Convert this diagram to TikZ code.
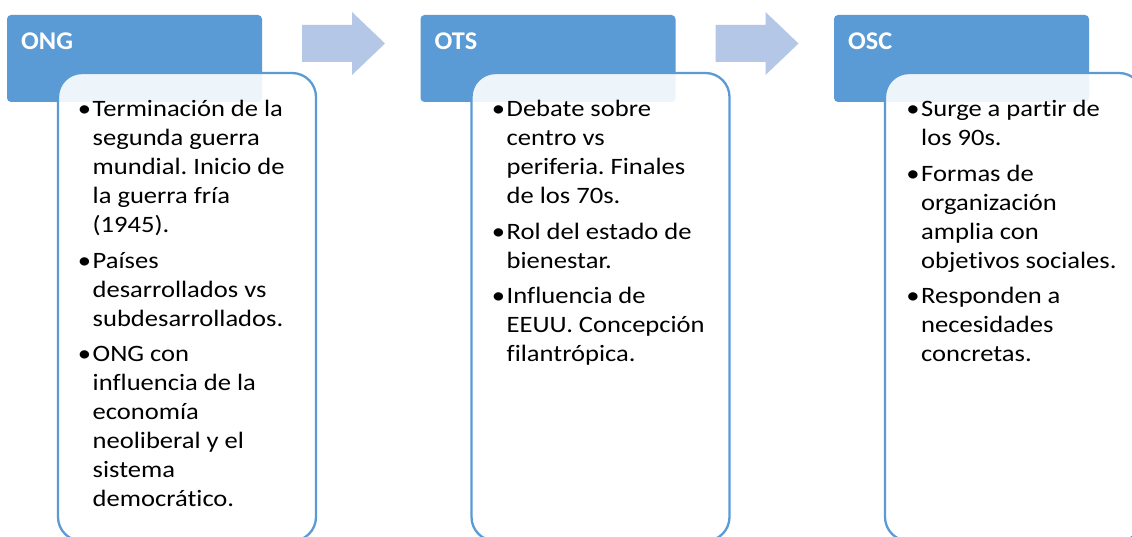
\documentclass[tikz,border=0pt]{standalone}
\usepackage{fontspec}
\setmainfont{Carlito}[FakeStretch=1.13, Ligatures={NoCommon}]
\newfontfamily\hdrfont{Carlito}[FakeStretch=1.03, Ligatures={NoCommon}]
\definecolor{hdrblue}{HTML}{5B9BD5}
\definecolor{arrowblue}{HTML}{B4C7E7}
\newcommand{\bodytext}[1]{\vtop{\hsize=300pt\parindent=0pt\parskip=0pt\frenchspacing\fontsize{23.5}{28.9}\selectfont #1}}
\newcommand{\bitem}[1]{\noindent\llap{•\kern1.5pt}#1\par}
\newcommand{\bgap}{\vskip6.8pt\relax}
\tikzset{
  hdrbox/.style={rectangle, fill=hdrblue, rounded corners=4pt, minimum width=255pt, minimum height=87pt, inner sep=0pt},
  bodybox/.style={rectangle, draw=hdrblue, line width=2.3pt, fill=white, fill opacity=0.9, rounded corners=24pt, minimum width=258pt, minimum height=468pt, inner sep=0pt},
  hdrtext/.style={anchor=base west, inner sep=0pt, text=white, font=\hdrfont\bfseries\fontsize{25.5}{30}\selectfont},
  bodytxt/.style={anchor=base west, inner sep=0pt, text=black},
  arrowshape/.style={fill=arrowblue}
}
\begin{document}
\begin{tikzpicture}[x=1pt,y=-1pt]
\useasboundingbox (0,0) rectangle (1132,537);
\clip (0,0) rectangle (1132,537);
\fill[white] (0,0) rectangle (1132,537);

% arrows
\path[arrowshape] (302,25) -- (352,25) -- (352,12) -- (385,43.5) -- (352,75) -- (352,62) -- (302,62) -- cycle;
\path[arrowshape] (715.5,25) -- (765.5,25) -- (765.5,12) -- (798.5,43.5) -- (765.5,75) -- (765.5,62) -- (715.5,62) -- cycle;

% group 1
\node[hdrbox] (h1) at (134.5,58.5) {};
\node[bodybox] (b1) at (187,307) {};
\node[hdrtext] (l1) at (21,49.3) {ONG};
\node[bodytxt] (t1) at (92.5,117) {\bodytext{%
\bitem{Terminación de la\\segunda guerra\\mundial. Inicio de\\la guerra fría\\(1945).}\bgap
\bitem{Países\\desarrollados vs\\subdesarrollados.}\bgap
\bitem{ONG con\\influencia de la\\economía\\neoliberal y el\\sistema\\democrático.}}};

% group 2
\node[hdrbox] (h2) at (548,58.5) {};
\node[bodybox] (b2) at (600.5,307) {};
\node[hdrtext] (l2) at (434.5,49.3) {OTS};
\node[bodytxt] (t2) at (506.5,117) {\bodytext{%
\bitem{Debate sobre\\centro vs\\periferia. Finales\\de los 70s.}\bgap
\bitem{Rol del estado de\\bienestar.}\bgap
\bitem{Influencia de\\EEUU. Concepción\\filantrópica.}}};

% group 3
\node[hdrbox] (h3) at (961.5,58.5) {};
\node[bodybox] (b3) at (1014,307) {};
\node[hdrtext] (l3) at (848,49.3) {OSC};
\node[bodytxt] (t3) at (921,117) {\bodytext{%
\bitem{Surge a partir de\\los 90s.}\bgap
\bitem{Formas de\\organización\\amplia con\\objetivos sociales.}\bgap
\bitem{Responden a\\necesidades\\concretas.}}};
\end{tikzpicture}
\end{document}
